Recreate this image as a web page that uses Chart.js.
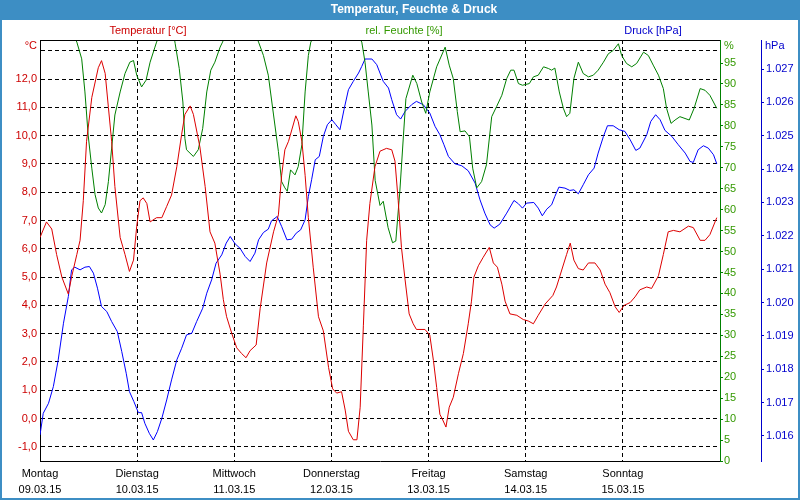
<!DOCTYPE html>
<html>
<head>
<meta charset="utf-8">
<title>Temperatur, Feuchte & Druck</title>
<script src="https://cdn.jsdelivr.net/npm/chart.js@4/dist/chart.umd.min.js"></script>
<style>
    html, body { margin: 0; padding: 0; background: #fff; }
    canvas { display: block; }
</style>
</head>
<body>
<canvas id="weatherChart" width="800" height="500"></canvas>
<script>
const dayNames = ['Montag', 'Dienstag', 'Mittwoch', 'Donnerstag', 'Freitag', 'Samstag', 'Sonntag'];
const dayDates = ['09.03.15', '10.03.15', '11.03.15', '12.03.15', '13.03.15', '14.03.15', '15.03.15'];

const tempTicks = [-1, 0, 1, 2, 3, 4, 5, 6, 7, 8, 9, 10, 11, 12, 13];
const humTicks = [0, 5, 10, 15, 20, 25, 30, 35, 40, 45, 50, 55, 60, 65, 70, 75, 80, 85, 90, 95];
const pressTicks = [1016, 1017, 1018, 1019, 1020, 1021, 1022, 1023, 1024, 1025, 1026, 1027];

// hours since Monday 00:00
const tempHours = [0, 1.6, 2.9, 4.1, 5.4, 7.0, 7.8, 9.1, 9.9, 10.7, 11.5, 12.8, 14.4, 15.2, 16.1, 16.9, 17.7, 18.5, 19.8, 21.0,
    22.1, 23.1, 23.9, 24.7, 25.5, 26.4, 27.2, 28.8, 30.1, 31.3, 32.5, 33.8, 35.0, 35.8, 37.1, 37.9, 39.5, 40.8, 42.0, 43.2,
    44.5, 45.3, 46.1, 47.4, 48.6, 49.8, 50.9, 51.9, 53.4, 54.4, 56.0, 57.7, 58.9, 59.7, 60.5, 61.4, 62.2, 63.2, 63.8, 64.7,
    65.5, 66.3, 67.5, 68.8, 70.0, 71.3, 72.3, 73.3, 74.5, 75.4, 76.2, 77.4, 78.3, 79.1, 79.9, 80.7, 81.5, 82.75, 84.0, 85.6,
    86.9, 87.7, 88.5, 89.3, 90.2, 91.2, 92.2, 93.0, 95.1, 96.3, 97.2, 98.0, 98.8, 99.5, 100.3, 101.1, 102.1, 103.4, 104.6, 105.8,
    106.6, 107.2, 108.3, 109.5, 111.0, 112.0, 113.0, 114.1, 114.9, 116.1, 117.8, 119.4, 120.6, 121.9, 123.1, 124.8, 126.7, 127.6, 128.9, 130.1,
    131.0, 131.9, 133.0, 134.2, 135.5, 137.1, 138.4, 139.6, 140.8, 142.1, 143.1, 144.3, 145.8, 147.0, 148.2, 149.9, 151.1, 152.8, 154.0, 155.2,
    156.5, 158.1, 160.2, 161.4, 163.1, 164.3, 165.5, 167.2];
const tempValues = [6.4, 6.95, 6.7, 5.8, 5.0, 4.4, 5.0, 5.8, 6.3, 7.7, 9.8, 11.35, 12.4, 12.65, 12.2, 11.0, 9.8, 8.2, 6.4, 5.8,
    5.2, 5.6, 6.8, 7.7, 7.8, 7.6, 6.95, 7.1, 7.1, 7.5, 7.9, 8.9, 10.05, 10.75, 11.05, 10.75, 9.6, 8.2, 6.6, 6.2,
    5.1, 4.2, 3.6, 3.0, 2.5, 2.3, 2.15, 2.4, 2.6, 3.9, 5.5, 6.6, 7.2, 8.6, 9.5, 9.8, 10.2, 10.7, 10.5, 9.8,
    8.6, 7.1, 5.35, 3.6, 3.1, 1.8, 1.05, 0.9, 0.95, 0.3, -0.45, -0.75, -0.75, 0.4, 3.3, 6.3, 7.6, 8.9, 9.45, 9.55,
    9.5, 9.1, 7.7, 6.05, 4.9, 3.7, 3.35, 3.15, 3.15, 2.95, 2.05, 1.1, 0.15, -0.05, -0.3, 0.4, 0.75, 1.6, 2.3, 3.35,
    4.15, 5.0, 5.4, 5.7, 6.05, 5.5, 5.35, 4.75, 4.15, 3.7, 3.65, 3.5, 3.45, 3.35, 3.65, 4.05, 4.35, 4.65, 5.25, 5.8,
    6.2, 5.6, 5.3, 5.25, 5.5, 5.5, 5.25, 4.75, 4.45, 3.95, 3.75, 4.0, 4.1, 4.3, 4.55, 4.65, 4.6, 5.05, 5.8, 6.6,
    6.65, 6.6, 6.8, 6.75, 6.3, 6.3, 6.5, 7.1];

const humHours = [0, 5, 9.1, 10.3, 11.1, 11.9, 12.8, 13.6, 14.4, 15.2, 16.1, 16.9, 17.7, 18.5, 19.8, 21.0, 22.2, 23.1, 23.9, 25.1,
    26.2, 27.2, 28.4, 28.8, 31, 33.0, 33.4, 34.4, 35.3, 35.8, 36.2, 37.9, 39.1, 40.2, 41.2, 42.2, 43.2, 44.5, 45.1, 49.5,
    54.0, 55.2, 56.4, 57.7, 58.9, 59.7, 60.5, 61.1, 61.9, 63.0, 63.8, 64.7, 65.5, 66.3, 66.9, 73, 79.5, 80.3, 81.1, 82.0,
    82.8, 84.0, 84.8, 86.0, 87.1, 87.9, 88.9, 89.8, 90.4, 92.1, 93.1, 94.3, 95.3, 96.3, 98.0, 100.1, 101.1, 102.1, 103.1, 103.8,
    105.0, 106.1, 106.9, 107.9, 109.1, 110.3, 111.6, 112.8, 114.1, 115.3, 116.3, 117.1, 118.2, 119.2, 120.9, 121.9, 123.1, 124.4, 125.6, 126.4,
    127.2, 128.3, 129.3, 130.1, 130.9, 131.9, 133.0, 134.2, 135.5, 136.7, 137.9, 139.2, 140.4, 141.6, 142.9, 143.7, 144.9, 146.2, 147.4, 149.1,
    150.3, 151.5, 152.8, 154.0, 154.8, 155.9, 156.9, 158.1, 160.4, 161.6, 163.1, 164.3, 165.5, 167.2];
const humValues = [106, 108, 100, 96, 88.1, 77.8, 69.9, 63.6, 60.4, 59.2, 61.2, 66.7, 74.7, 82.6, 88.1, 92.5, 95.2, 95.6, 92.1, 89.3,
    90.9, 95.2, 98.8, 100, 105, 102, 99.6, 93.7, 85.7, 77, 74.3, 72.7, 74.3, 79.4, 88.1, 93.3, 95.2, 98.8, 100, 110,
    100, 96.8, 92.1, 82.6, 73.9, 66.7, 65.2, 64.4, 69.5, 68.3, 70.3, 75.5, 88.1, 96.8, 100, 110, 100, 95.2, 88.1, 80.2,
    67, 61, 62.0, 55.7, 52.1, 52.5, 64.4, 77.8, 86.5, 92.1, 90.1, 85.7, 83.0, 88.1, 94.1, 98.8, 94.5, 91.3, 83.4, 78.6,
    78.8, 77.4, 69.9, 65.2, 66.7, 70.7, 82.2, 84.6, 87.3, 91.3, 93.3, 93.3, 90.1, 89.7, 90.1, 91.7, 92.1, 94.1, 93.7, 93.3,
    93.8, 88.1, 84.2, 82.2, 83.0, 91.3, 95.2, 92.5, 91.7, 92.1, 93.3, 95.2, 97.2, 98.0, 99.6, 96.8, 94.9, 94.1, 94.9, 97.6,
    96.8, 94.5, 92.1, 88.9, 84.2, 80.6, 81.4, 82.2, 81.4, 84.2, 88.9, 88.5, 87.3, 84.2];

const pressHours = [0, 0.8, 2.1, 3.3, 4.5, 5.8, 7.0, 7.8, 8.6, 9.9, 11.1, 12.2, 13.2, 14.2, 15.2, 16.5, 17.7, 19.1, 20.2, 21.3,
    22.1, 23.2, 24.3, 25.1, 25.9, 27.0, 28.0, 29.0, 30.1, 31.3, 32.5, 33.8, 35.0, 36.2, 37.5, 38.7, 40.2, 41.2, 42.4, 43.5,
    44.9, 46.0, 47.0, 48.2, 49.4, 50.7, 51.9, 53.1, 54.0, 55.2, 56.4, 57.2, 58.6, 59.7, 61.0, 62.2, 63.3, 64.4, 65.5, 66.3,
    67.1, 68.0, 69.0, 70.0, 71.0, 72.1, 73.1, 74.1, 75.1, 76.2, 77.4, 78.7, 79.5, 80.3, 82.0, 83.2, 84.8, 86.1, 86.9, 88.1,
    89.1, 90.2, 91.8, 93.0, 94.7, 96.3, 97.6, 98.8, 99.8, 100.9, 102.5, 104.2, 105.8, 107.5, 108.7, 109.9, 111.2, 112.2, 113.6, 115.3,
    117.1, 118.2, 119.2, 120.2, 122.0, 123.1, 124.1, 125.2, 126.4, 127.2, 128.2, 129.7, 130.9, 131.9, 133.0, 134.2, 135.5, 136.9, 137.9, 139.2,
    140.2, 141.6, 143.1, 144.5, 145.8, 147.2, 148.2, 149.9, 150.9, 152.1, 153.2, 154.4, 156.1, 157.7, 159.4, 160.6, 161.4, 162.6, 163.9, 165.1,
    166.4, 167.2];
const pressValues = [1016.03, 1016.68, 1016.98, 1017.48, 1018.28, 1019.38, 1020.18, 1020.98, 1021.06, 1020.98, 1021.06, 1021.08, 1020.88, 1020.43, 1019.88, 1019.73, 1019.43, 1019.13, 1018.53, 1017.88,
    1017.33, 1017.03, 1016.70, 1016.70, 1016.38, 1016.08, 1015.88, 1016.13, 1016.53, 1017.08, 1017.68, 1018.28, 1018.63, 1019.03, 1019.08, 1019.43, 1019.83, 1020.28, 1020.68, 1021.18,
    1021.43, 1021.78, 1021.98, 1021.76, 1021.63, 1021.38, 1021.23, 1021.48, 1021.88, 1022.10, 1022.20, 1022.45, 1022.58, 1022.28, 1021.88, 1021.90, 1022.08, 1022.18, 1022.48, 1023.18,
    1023.68, 1024.28, 1024.38, 1024.98, 1025.33, 1025.48, 1025.33, 1025.18, 1025.78, 1026.38, 1026.63, 1026.88, 1027.08, 1027.30, 1027.30, 1027.13, 1026.63, 1026.43, 1026.08, 1025.63,
    1025.50, 1025.73, 1025.93, 1026.03, 1025.93, 1025.68, 1025.28, 1025.03, 1024.73, 1024.38, 1024.16, 1024.10, 1023.95, 1023.58, 1023.08, 1022.68, 1022.33, 1022.23, 1022.35, 1022.68,
    1023.06, 1022.96, 1022.83, 1022.98, 1023.00, 1022.83, 1022.60, 1022.80, 1022.93, 1023.18, 1023.46, 1023.43, 1023.36, 1023.38, 1023.26, 1023.53, 1023.83, 1024.03, 1024.48, 1024.98,
    1025.30, 1025.30, 1025.18, 1025.13, 1024.88, 1024.56, 1024.63, 1025.03, 1025.43, 1025.63, 1025.48, 1025.16, 1024.98, 1024.73, 1024.48, 1024.23, 1024.20, 1024.58, 1024.70, 1024.63,
    1024.43, 1024.16];

document.addEventListener('DOMContentLoaded', function() {
    const FONT = "'Liberation Sans', Arial, sans-serif";
    Chart.defaults.font.family = FONT;
    Chart.defaults.font.size = 11;

    const toPoints = (hours, values) => hours.map((h, i) => ({ x: h, y: values[i] }));
    const fixedTicks = list => axis => { axis.ticks = list.map(v => ({ value: v })); };

    // blue frame, title bar, captions over the plot
    const framePlugin = {
        id: 'frame',
        beforeDraw(chart) {
            const ctx = chart.ctx;
            ctx.save();
            ctx.fillStyle = '#3d8ec4';
            ctx.fillRect(0, 0, chart.width, chart.height);
            ctx.fillStyle = '#ffffff';
            ctx.fillRect(2, 20, chart.width - 4, chart.height - 22);
            ctx.font = 'bold 12px ' + FONT;
            ctx.textAlign = 'center';
            ctx.textBaseline = 'middle';
            ctx.fillText('Temperatur, Feuchte & Druck', 414, 10);
            ctx.restore();
        },
        afterDraw(chart) {
            const ctx = chart.ctx;
            const area = chart.chartArea;
            ctx.save();
            ctx.strokeStyle = '#000';
            ctx.lineWidth = 1;
            ctx.beginPath();
            ctx.moveTo(area.left, area.top + 0.5);
            ctx.lineTo(area.right, area.top + 0.5);
            ctx.stroke();

            ctx.font = '11px ' + FONT;
            ctx.textBaseline = 'middle';
            ctx.textAlign = 'center';
            ctx.fillStyle = '#cc0000';
            ctx.fillText('Temperatur [°C]', 148, 31);
            ctx.fillStyle = '#339900';
            ctx.fillText('rel. Feuchte [%]', 404, 31);
            ctx.fillStyle = '#0000cc';
            ctx.fillText('Druck [hPa]', 653, 31);

            ctx.textAlign = 'right';
            ctx.fillStyle = '#cc0000';
            ctx.fillText('°C', 37, 46);
            ctx.textAlign = 'left';
            ctx.fillStyle = '#339900';
            ctx.fillText('%', 724, 46);
            ctx.fillStyle = '#0000cc';
            ctx.fillText('hPa', 765, 46);
            ctx.restore();
        }
    };

    const ctx = document.getElementById('weatherChart').getContext('2d');
    new Chart(ctx, {
        type: 'line',
        data: {
            datasets: [{
                label: 'Temperatur [°C]',
                data: toPoints(tempHours, tempValues),
                yAxisID: 'yT',
                borderColor: '#dd0000',
                borderWidth: 1,
                pointRadius: 0
            }, {
                label: 'rel. Feuchte [%]',
                data: toPoints(humHours, humValues),
                yAxisID: 'yH',
                borderColor: '#008000',
                borderWidth: 1,
                pointRadius: 0
            }, {
                label: 'Druck [hPa]',
                data: toPoints(pressHours, pressValues),
                yAxisID: 'yP',
                borderColor: '#0000ff',
                borderWidth: 1,
                pointRadius: 0
            }]
        },
        options: {
            responsive: false,
            animation: false,
            events: [],
            layout: { padding: { top: 40, left: 0, right: 0, bottom: 0 } },
            plugins: {
                legend: { display: false },
                title: { display: false },
                tooltip: { enabled: false }
            },
            scales: {
                x: {
                    type: 'linear',
                    min: 0,
                    max: 168,
                    afterBuildTicks: fixedTicks(dayNames.map((d, i) => i * 24)),
                    afterFit: axis => { axis.height = 39; },
                    ticks: {
                        autoSkip: false,
                        maxRotation: 0,
                        padding: 5,
                        color: '#000',
                        font: { size: 11, lineHeight: 1.45 },
                        callback: value => {
                            const i = Math.round(value / 24);
                            return [dayNames[i], dayDates[i]];
                        }
                    },
                    grid: { color: '#000', drawTicks: false },
                    border: { color: '#000', dash: [4, 3] }
                },
                yT: {
                    position: 'left',
                    min: -1.5,
                    max: 13.38,
                    afterBuildTicks: fixedTicks(tempTicks),
                    afterFit: axis => { axis.width = 40; },
                    ticks: {
                        color: '#cc0000',
                        padding: 3,
                        callback: value => value >= 13 ? '' : value.toFixed(1).replace('.', ',')
                    },
                    grid: { color: '#000', drawTicks: false },
                    border: { color: '#000', dash: [4, 3] }
                },
                yH: {
                    position: 'right',
                    weight: 0,
                    min: 0,
                    max: 100.5,
                    afterBuildTicks: fixedTicks(humTicks),
                    afterFit: axis => { axis.width = 41; },
                    ticks: { color: '#339900', padding: 1 },
                    grid: { drawOnChartArea: false, color: '#008000', tickLength: 3 },
                    border: { color: '#008000' }
                },
                yP: {
                    position: 'right',
                    weight: 1,
                    min: 1015.25,
                    max: 1027.87,
                    afterBuildTicks: fixedTicks(pressTicks),
                    afterFit: axis => { axis.width = 39; },
                    ticks: {
                        color: '#0000cc',
                        padding: 2,
                        callback: value => (value / 1000).toFixed(3)
                    },
                    grid: { drawOnChartArea: false, color: '#0000cc', tickLength: 3 },
                    border: { color: '#0000cc' }
                }
            }
        },
        plugins: [framePlugin]
    });
});
</script>
</body>
</html>
